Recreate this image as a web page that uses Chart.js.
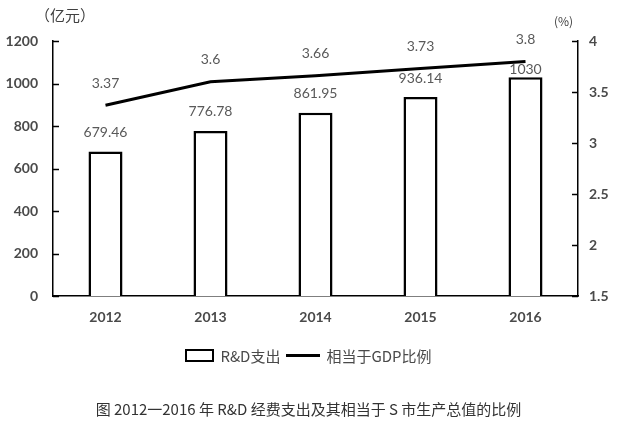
<!DOCTYPE html>
<html>
<head>
<meta charset="utf-8">
<script src="https://cdn.jsdelivr.net/npm/chart.js@4/dist/chart.umd.min.js"></script>
<style>
    html, body { margin: 0; padding: 0; background: #fff; }
    #wrap { position: relative; width: 617px; height: 426px; overflow: hidden; }
    #chart { position: absolute; left: 0; top: 0; }
    .unit { position: absolute; color: #404040; font-family: "Noto Sans CJK SC", sans-serif; }
    #legend { position: absolute; left: 0; top: 344px; width: 617px; height: 22px; display: flex; justify-content: center; align-items: center; font-family: "Noto Sans CJK SC", sans-serif; font-size: 15px; color: #4a4a4a; }
    #legend .box { width: 25px; height: 9px; border: 2px solid #000; margin-right: 6px; }
    #legend .ln { width: 34px; height: 3px; background: #000; margin: 0 6px 0 6px; }
    #caption { position: absolute; left: 0; top: 398px; width: 617px; text-align: center; font-family: "Noto Sans CJK SC", sans-serif; font-size: 15px; color: #333; }
</style>
</head>
<body>
<div id="wrap">
    <canvas id="chart" width="617" height="426"></canvas>
    <div class="unit" style="left:35px; top:4px; font-size:15px;">（亿元）</div>
    <div class="unit" style="left:554px; top:12px; font-size:12px;">(%)</div>
    <div id="legend">
        <span class="box"></span><span>R&amp;D支出</span>
        <span class="ln"></span><span>相当于GDP比例</span>
    </div>
    <div id="caption">图 2012一2016 年 R&amp;D 经费支出及其相当于 S 市生产总值的比例</div>
</div>
<script>
// ========================================
// R&D spending chart data
// ========================================
const years = ['2012', '2013', '2014', '2015', '2016'];
const rdSpending = [679.46, 776.78, 861.95, 936.14, 1030];
const gdpRatio = [3.37, 3.6, 3.66, 3.73, 3.8];
const rdLabels = ['679.46', '776.78', '861.95', '936.14', '1030'];
const ratioLabels = ['3.37', '3.6', '3.66', '3.73', '3.8'];

const tickFont = { family: 'Lato, "Open Sans", sans-serif', size: 14, weight: 'bold' };
const tickColor = '#4a4a4a';

// Short tick marks drawn inside the plot, like the original
const innerTicks = {
    id: 'innerTicks',
    afterDraw(chart) {
        const ctx = chart.ctx;
        ctx.save();
        ctx.strokeStyle = '#000';
        ctx.lineWidth = 1.5;
        ['y', 'y1'].forEach(id => {
            const scale = chart.scales[id];
            const x = id === 'y' ? scale.right : scale.left;
            const dir = id === 'y' ? 1 : -1;
            scale.ticks.forEach((t, i) => {
                const py = Math.round(scale.getPixelForTick(i)) + 0.5;
                ctx.beginPath();
                ctx.moveTo(x, py);
                ctx.lineTo(x + dir * 6, py);
                ctx.stroke();
            });
        });
        ctx.restore();
    }
};

// Value labels above bars and line points
const valueLabels = {
    id: 'valueLabels',
    afterDatasetsDraw(chart) {
        const ctx = chart.ctx;
        ctx.save();
        ctx.font = '14px Lato, "Open Sans", sans-serif';
        ctx.fillStyle = '#595959';
        ctx.textAlign = 'center';
        ctx.textBaseline = 'middle';

        const bars = chart.getDatasetMeta(1).data;
        bars.forEach((bar, i) => {
            // last label sits closer, under the line label
            const gap = i === bars.length - 1 ? 8 : 19;
            ctx.fillText(rdLabels[i], bar.x, bar.y - gap);
        });

        chart.getDatasetMeta(0).data.forEach((pt, i) => {
            ctx.fillText(ratioLabels[i], pt.x, pt.y - 22);
        });
        ctx.restore();
    }
};

new Chart(document.getElementById('chart'), {
    data: {
        labels: years,
        datasets: [{
            type: 'line',
            label: '相当于GDP比例',
            data: gdpRatio,
            yAxisID: 'y1',
            borderColor: '#000',
            borderWidth: 3,
            pointRadius: 0,
            tension: 0,
            order: 0
        }, {
            type: 'bar',
            label: 'R&D支出',
            data: rdSpending,
            yAxisID: 'y',
            backgroundColor: '#fff',
            borderColor: '#000',
            borderWidth: 2.5,
            barPercentage: 0.324,
            categoryPercentage: 1,
            order: 1
        }]
    },
    options: {
        responsive: false,
        animation: false,
        layout: { padding: { top: 41, left: 0, right: 0, bottom: 0 } },
        plugins: {
            legend: { display: false },
            tooltip: { enabled: false }
        },
        scales: {
            x: {
                grid: { display: false, drawTicks: false },
                border: { display: true, color: '#000', width: 1.5 },
                ticks: { font: tickFont, color: tickColor, padding: 13 },
                afterFit(scale) { scale.height = 130; }
            },
            y: {
                position: 'left',
                min: 0,
                max: 1200,
                ticks: { stepSize: 200, font: tickFont, color: tickColor, padding: 15, callback: v => String(v) },
                grid: { display: false, drawTicks: false },
                border: { display: true, color: '#000', width: 1.5 },
                afterFit(scale) { scale.width = 53; }
            },
            y1: {
                position: 'right',
                min: 1.5,
                max: 4,
                ticks: { stepSize: 0.5, font: tickFont, color: tickColor, padding: 11, callback: v => String(v) },
                grid: { display: false, drawTicks: false },
                border: { display: true, color: '#000', width: 1.5 },
                afterFit(scale) { scale.width = 39; }
            }
        }
    },
    plugins: [innerTicks, valueLabels]
});
</script>
</body>
</html>
